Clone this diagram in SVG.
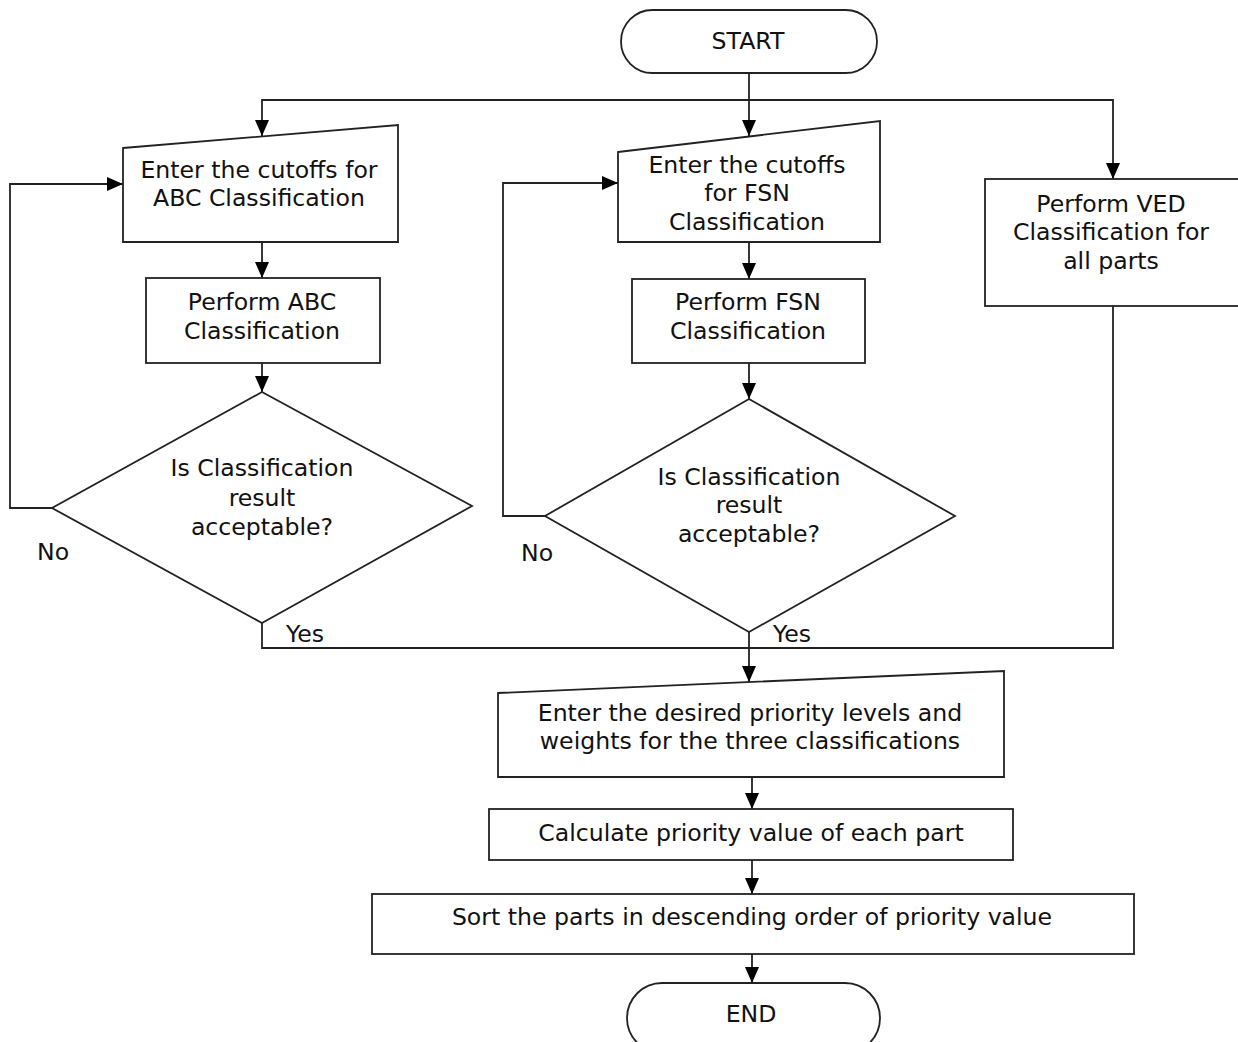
<svg xmlns="http://www.w3.org/2000/svg" width="1238" height="1042" viewBox="0 0 1238 1042">
<defs>
<marker id="ah" markerUnits="userSpaceOnUse" markerWidth="16" markerHeight="14" refX="16" refY="7" orient="auto">
<path d="M0,0 L16,7 L0,14 z" fill="#000"/>
</marker>
<style>
.s{fill:#fff;stroke:#222;stroke-width:1.8}
.c{fill:none;stroke:#222;stroke-width:1.8}
.a{marker-end:url(#ah)}
text{font-family:"DejaVu Sans","Liberation Sans",sans-serif;font-size:23.6px;fill:#111;text-anchor:middle;dominant-baseline:central}
.l{text-anchor:start}
</style>
</defs>
<rect width="1238" height="1042" fill="#fff"/>
<g id="connectors">
<path class="c" d="M749,73 V100"/>
<path class="c a" d="M749,100 V136"/>
<path class="c a" d="M749,100 H262 V136"/>
<path class="c a" d="M749,100 H1113 V179"/>
<path class="c a" d="M262,242 V278"/>
<path class="c a" d="M262,363 V392"/>
<path class="c a" d="M52,508 H10 V184 H123"/>
<path class="c a" d="M749,242 V279"/>
<path class="c a" d="M749,363 V399"/>
<path class="c a" d="M545,516 H503 V183 H618"/>
<path class="c" d="M262,623 V648 H749"/>
<path class="c" d="M1113,306 V648 H749"/>
<path class="c a" d="M749,632 V682"/>
<path class="c a" d="M752,777 V809"/>
<path class="c a" d="M752,860 V894"/>
<path class="c a" d="M752,954 V983"/>
<text class="l" x="37" y="552">No</text>
<text class="l" x="286" y="634">Yes</text>
<text class="l" x="521" y="553">No</text>
<text class="l" x="773" y="634">Yes</text>
</g>
<g id="start">
<rect class="s" x="621" y="10" width="256" height="63" rx="31.5"/>
<text x="748" y="41">START</text>
</g>
<g id="abc-input">
<path class="s" d="M123,148 L398,125 L398,242 L123,242 Z"/>
<text x="259" y="170">Enter the cutoffs for</text>
<text x="259" y="198">ABC Classification</text>
</g>
<g id="abc-perform">
<rect class="s" x="146" y="278" width="234" height="85"/>
<text x="262" y="302">Perform ABC</text>
<text x="262" y="331">Classification</text>
</g>
<g id="abc-decision">
<path class="s" d="M262,392 L472,506 L262,623 L52,508 Z"/>
<text x="262" y="468">Is Classification</text>
<text x="262" y="498">result</text>
<text x="262" y="527">acceptable?</text>
</g>
<g id="fsn-input">
<path class="s" d="M618,152 L880,121 L880,242 L618,242 Z"/>
<text x="747" y="165">Enter the cutoffs</text>
<text x="747" y="193">for FSN</text>
<text x="747" y="222">Classification</text>
</g>
<g id="fsn-perform">
<rect class="s" x="632" y="279" width="233" height="84"/>
<text x="748" y="302">Perform FSN</text>
<text x="748" y="331">Classification</text>
</g>
<g id="fsn-decision">
<path class="s" d="M749,399 L955,516 L749,632 L545,516 Z"/>
<text x="749" y="477">Is Classification</text>
<text x="749" y="505">result</text>
<text x="749" y="534">acceptable?</text>
</g>
<g id="ved">
<rect class="s" x="985" y="179" width="260" height="127"/>
<text x="1111" y="204">Perform VED</text>
<text x="1111" y="232">Classification for</text>
<text x="1111" y="261">all parts</text>
</g>
<g id="priority-input">
<path class="s" d="M498,693 L1004,671 L1004,777 L498,777 Z"/>
<text x="750" y="713">Enter the desired priority levels and</text>
<text x="750" y="741">weights for the three classifications</text>
</g>
<g id="calculate">
<rect class="s" x="489" y="809" width="524" height="51"/>
<text x="751" y="833">Calculate priority value of each part</text>
</g>
<g id="sort">
<rect class="s" x="372" y="894" width="762" height="60"/>
<text x="752" y="917">Sort the parts in descending order of priority value</text>
</g>
<g id="end">
<rect class="s" x="627" y="983" width="253" height="70" rx="35"/>
<text x="751" y="1014">END</text>
</g>
</svg>
